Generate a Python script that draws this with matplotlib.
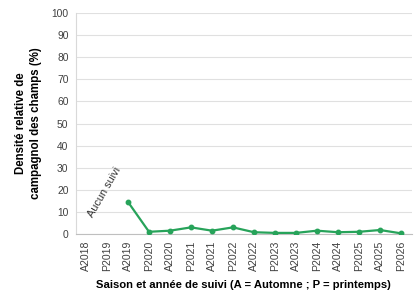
import matplotlib
matplotlib.use("Agg")
import matplotlib.pyplot as plt
import numpy as np

categories = ["A2018", "P2019", "A2019", "P2020", "A2020", "P2021", "A2021", "P2022",
              "A2022", "P2023", "A2023", "P2024", "A2024", "P2025", "A2025", "P2026"]
values = [np.nan, np.nan, 14.5, 1.0, 1.5, 3.0, 1.5, 3.0, 0.8, 0.5, 0.5, 1.5, 0.8, 1.0, 1.8, 0.3]
yticks = [0, 10, 20, 30, 40, 50, 60, 70, 80, 90, 100]

plt.rcParams['font.family'] = ['Liberation Sans', 'DejaVu Sans']

fig = plt.figure(figsize=(4.16, 3.0), dpi=100)
ax = fig.add_axes([75.5/416, 1 - 234/300, (411.5-75.5)/416, (234-13)/300])

x = np.arange(len(categories))
ax.plot(x, values, color="#27a35a", lw=1.6, marker="o", ms=3.2, zorder=3)

ax.set_xlim(-0.5, len(categories) - 0.5)
ax.set_ylim(0, 100)
ax.set_yticks(yticks)
ax.set_yticklabels([str(v) for v in yticks], fontsize=7.4, color="#404040")
ax.set_xticks(x)
ax.set_xticklabels(categories, rotation=90, fontsize=7.6, color="#404040")
ax.tick_params(axis='y', length=0, pad=5)
ax.tick_params(axis='x', length=0, pad=5)
ax.grid(axis='y', color="#e0e0e0", lw=0.8)
ax.set_axisbelow(True)
for s in ["top", "right"]:
    ax.spines[s].set_visible(False)
ax.spines["left"].set_color("#d9d9d9")
ax.spines["bottom"].set_color("#bfbfbf")

ax.set_xlabel("Saison et année de suivi (A = Automne ; P = printemps)", fontsize=8.1,
              fontweight="bold", labelpad=6)
ax.set_ylabel("Densité relative de\ncampagnol des champs (%)", fontsize=8.3,
              fontweight="bold", labelpad=7, linespacing=1.3)

ax.text(0.86, 19, "Aucun suivi", rotation=60, fontsize=7.8, ha="center", va="center",
        color="#333333")

fig.savefig("out.png", dpi=100)
